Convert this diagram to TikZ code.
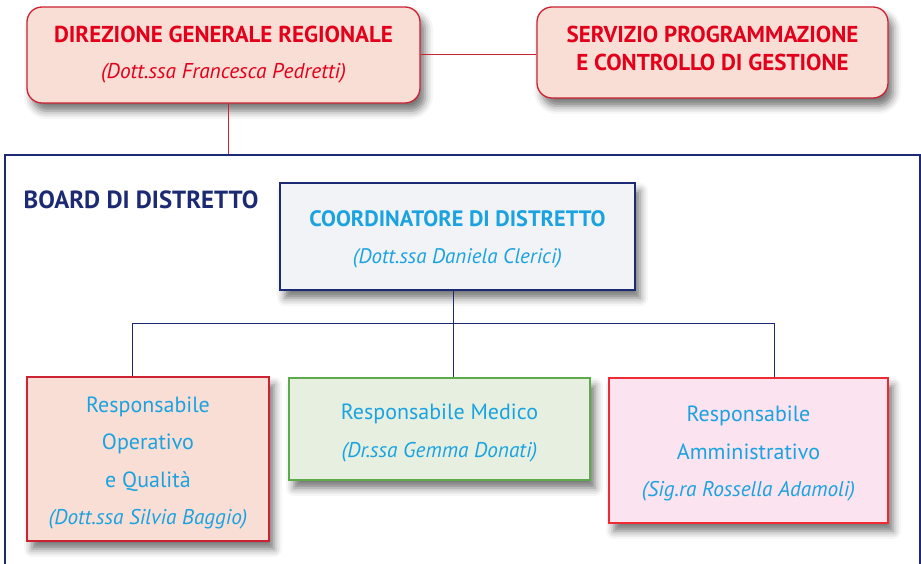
\documentclass[tikz,border=0pt]{standalone}
\usepackage{fontspec}
\setmainfont{PT Sans}
\usetikzlibrary{shadows,shadows.blur}
\definecolor{redtxt}{HTML}{E3001B}
\definecolor{redline}{HTML}{CC2233}
\definecolor{pinkfill}{HTML}{F9DED5}
\definecolor{navy}{HTML}{1B2A72}
\definecolor{cyantxt}{HTML}{1AA3E0}
\definecolor{grayfill}{HTML}{F1F3F7}
\definecolor{greenline}{HTML}{5DAA4A}
\definecolor{greenfill}{HTML}{E7F0E0}
\definecolor{rosefill}{HTML}{FBE3EF}
\definecolor{roseline}{HTML}{EE2A35}
\tikzset{
  shad/.style={blur shadow={shadow xshift=5pt,shadow yshift=-8pt,shadow blur radius=8pt,shadow opacity=55}},
  topbox/.style={draw=redline,line width=1.3pt,fill=pinkfill,rounded corners=15pt,shad,inner sep=0pt},
  lowbox/.style={line width=1.2pt,shad,inner sep=0pt},
  txt/.style={align=center,inner sep=0pt},
  lowtxt/.style={txt,text=cyantxt,font=\fontsize{22}{37.5}\selectfont},
  redconn/.style={draw=redline,line width=1pt},
  navyconn/.style={draw=navy,line width=1pt},
}
\begin{document}
\begin{tikzpicture}[x=1pt,y=-1pt]
\useasboundingbox (0,0) rectangle (921,564);
\clip (0,0) rectangle (921,564);
% board
\node[draw=navy,line width=2.5pt,minimum width=915pt,minimum height=440pt,inner sep=0pt] (board) at (462.5,375) {};
\node[text=navy,anchor=west,inner sep=0pt,font=\fontsize{24.8}{28}\selectfont\bfseries] (boardlbl) at (23.5,200) {BOARD DI DISTRETTO};
% top boxes
\node[topbox,minimum width=393pt,minimum height=96pt] (dgr) at (223.5,55) {};
\node[txt,text=redtxt,font=\fontsize{23}{28}\selectfont\bfseries] (dgrt1) at (223.5,34) {DIREZIONE GENERALE REGIONALE};
\node[txt,text=redtxt,font=\fontsize{21.4}{28}\selectfont\itshape] (dgrt2) at (223.5,73) {(Dott.ssa Francesca Pedretti)};
\node[topbox,minimum width=351pt,minimum height=91pt] (serv) at (712.5,52.5) {};
\node[txt,text=redtxt,font=\fontsize{23}{28.5}\selectfont\bfseries] (servt) at (712.5,48.5) {SERVIZIO PROGRAMMAZIONE\\E CONTROLLO DI GESTIONE};
% coordinator
\node[draw=navy,line width=1.2pt,fill=grayfill,shad,minimum width=355pt,minimum height=107pt,inner sep=0pt] (coord) at (457.5,236.5) {};
\node[txt,text=cyantxt,font=\fontsize{22.3}{28}\selectfont\bfseries] (coordt1) at (457.5,219) {COORDINATORE DI DISTRETTO};
\node[txt,text=cyantxt,font=\fontsize{21}{28}\selectfont\itshape] (coordt2) at (457.5,258) {(Dott.ssa Daniela Clerici)};
% lower boxes
\node[lowbox,draw=redline,fill=pinkfill,minimum width=242pt,minimum height=164pt] (b1) at (148,459) {};
\node[lowtxt] (b1t) at (148,463) {Responsabile\\Operativo\\e Qualità\\\fontsize{21.3}{37.5}\selectfont\itshape (Dott.ssa Silvia Baggio)};
\node[lowbox,draw=greenline,fill=greenfill,minimum width=301pt,minimum height=102pt] (b2) at (439.5,429) {};
\node[lowtxt] (b2t) at (439.5,433) {Responsabile Medico\\\fontsize{21.3}{37.5}\selectfont\itshape (Dr.ssa Gemma Donati)};
\node[lowbox,draw=roseline,fill=rosefill,minimum width=279pt,minimum height=145pt] (b3) at (748.5,450.5) {};
\node[lowtxt] (b3t) at (748.5,454) {Responsabile\\Amministrativo\\\fontsize{21.3}{37.5}\selectfont\itshape (Sig.ra Rossella Adamoli)};
% connectors
\draw[redconn] (dgr.east) -- (dgr.east -| serv.west);
\coordinate (dl) at (228,0);
\draw[redconn] (dl |- dgr.south) -- (dl |- board.north);
\coordinate (j) at (453,323);
\coordinate (t1) at (132,323);
\coordinate (t3) at (774,323);
\draw[navyconn] (j |- coord.south) -- (j |- b2.north);
\draw[navyconn] (t1 |- b1.north) -- (t1) -- (t3) -- (t3 |- b3.north);
\end{tikzpicture}
\end{document}
